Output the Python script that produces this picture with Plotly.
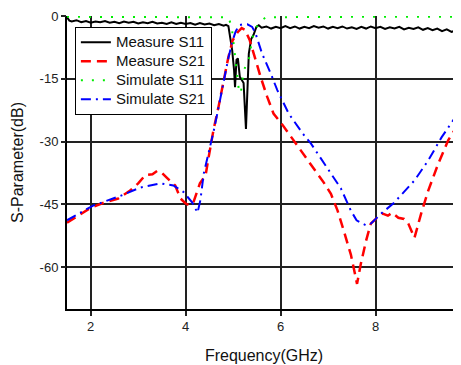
import plotly.graph_objects as go

# Measure S11 (black solid)
m11_f = [1.5, 1.55, 1.6, 1.7, 1.8, 1.9, 2.0, 2.1, 2.2, 2.3, 2.4, 2.5, 2.6, 2.7, 2.8, 2.9,
         3.0, 3.1, 3.2, 3.3, 3.4, 3.5, 3.6, 3.7, 3.8, 3.9, 4.0, 4.1, 4.2, 4.3, 4.4, 4.5,
         4.6, 4.7, 4.8, 4.85, 4.9, 4.95, 4.98, 5.02, 5.04, 5.07, 5.1, 5.14, 5.18, 5.22,
         5.27, 5.3, 5.33, 5.38, 5.43, 5.49, 5.54, 5.6, 5.7, 5.8, 5.9, 6.0, 6.1, 6.2, 6.3,
         6.4, 6.5, 6.6, 6.7, 6.8, 6.9, 7.0, 7.1, 7.2, 7.3, 7.4, 7.5, 7.6, 7.7, 7.8, 7.9,
         8.0, 8.1, 8.2, 8.3, 8.4, 8.5, 8.6, 8.7, 8.8, 8.9, 9.0, 9.1, 9.2, 9.3, 9.4, 9.5,
         9.6, 9.7, 9.8]
m11_v = [-0.3, -1.1, -1.3, -1.0, -1.5, -1.2, -1.6, -1.3, -1.5, -1.2, -1.6, -1.4, -1.7, -1.3, -1.6, -1.4,
         -1.8, -1.5, -1.7, -1.4, -1.8, -1.6, -1.9, -1.5, -1.9, -1.6, -1.9, -1.7, -2.1, -1.7, -2.0, -1.8,
         -2.2, -1.9, -2.3, -2.1, -2.4, -5.5, -8.2, -13.0, -17.0, -10.5, -10.1, -14.5, -15.3, -16.0,
         -27.0, -18.0, -9.0, -5.5, -4.5, -2.6, -2.2, -2.8, -2.5, -3.0, -2.6, -2.9, -2.4, -2.9, -2.5,
         -3.0, -2.6, -2.9, -2.4, -2.8, -2.5, -3.0, -2.6, -2.9, -2.5, -3.0, -2.7, -3.1, -2.6, -3.0, -2.5,
         -2.9, -2.6, -3.1, -2.7, -3.0, -2.6, -3.2, -2.8, -3.1, -2.7, -3.3, -2.9, -3.4, -3.0, -3.6, -3.2,
         -3.8, -3.4, -4.0]

# Measure S21 (red dashed)
m21_f = [1.5, 1.75, 2.0, 2.3, 2.58, 2.83, 3.0, 3.15, 3.3, 3.4, 3.5, 3.6, 3.78, 3.89, 4.0, 4.08,
         4.16, 4.3, 4.42, 4.48, 4.59, 4.69, 4.8, 4.9, 4.99, 5.1, 5.18, 5.25, 5.35, 5.47, 5.58,
         5.72, 5.85, 6.02, 6.32, 6.57, 6.74, 6.91, 7.06, 7.2, 7.33, 7.48, 7.61, 7.69, 7.8,
         7.9, 8.05, 8.15, 8.26, 8.35, 8.48, 8.6, 8.69, 8.82, 8.96, 9.11, 9.32, 9.53, 9.75, 9.8]
m21_v = [-49.4, -47.5, -45.8, -44.5, -43.6, -41.7, -40.0, -38.0, -37.8, -37.0, -37.5, -38.6, -40.5, -43.6, -44.8, -45.2,
         -44.6, -40.0, -38.0, -34.0, -27.0, -21.8, -15.3, -9.8, -5.8, -3.8, -2.9, -3.3, -5.8, -10.5, -14.6,
         -19.4, -23.3, -25.7, -30.5, -34.5, -37.0, -39.8, -42.5, -46.5, -51.3, -57.0, -64.0, -59.2, -53.7,
         -49.6, -48.0, -47.2, -47.7, -47.0, -48.2, -48.5, -49.6, -53.0, -47.2, -41.7, -35.3, -29.7, -25.7, -25.0]

# Simulate S11 (green dotted)
s11_f = [1.5, 2.5, 3.5, 4.5, 4.9, 4.97, 5.02, 5.05, 5.12, 5.16, 5.21, 5.28, 5.33, 5.38, 5.43,
         5.5, 5.6, 5.7, 6.5, 7.5, 8.5, 9.8]
s11_v = [-0.2, -0.2, -0.2, -0.2, -0.3, -2.6, -7.8, -12.0, -17.7, -18.5, -14.0, -11.0, -10.5, -7.0, -4.0,
         -2.5, -1.0, -0.3, -0.2, -0.2, -0.2, -0.2]

# Simulate S21 (blue dash-dot)
s21_f = [1.5, 2.05, 2.62, 3.04, 3.47, 3.74, 3.95, 4.14, 4.25, 4.31, 4.38, 4.48, 4.59, 4.69, 4.8,
         4.9, 4.99, 5.05, 5.12, 5.2, 5.3, 5.4, 5.47, 5.61, 5.79, 5.93, 6.17, 6.46, 6.64,
         6.95, 7.27, 7.48, 7.6, 7.69, 7.8, 7.9, 8.12, 8.39, 8.82, 9.11, 9.39, 9.75, 9.8]
s21_v = [-48.8, -45.3, -43.0, -41.0, -40.0, -40.5, -42.0, -44.6, -47.0, -44.0, -37.7, -33.0, -27.5, -22.0, -15.5,
         -10.0, -5.8, -3.8, -2.2, -2.0, -2.0, -2.6, -4.1, -9.0, -13.7, -17.7, -23.3, -28.0, -30.5,
         -35.7, -41.2, -46.5, -48.8, -49.4, -50.0, -49.6, -47.2, -44.6, -39.3, -34.5, -29.0, -23.0, -22.3]

series_names = ["Measure S11", "Measure S21", "Simulate S11", "Simulate S21"]
x_ticks = [2, 4, 6, 8]
y_ticks = [0, -15, -30, -45, -60]
y_range = [-70, 0]


def legend_label(text):
    return '<span style="font-size:15px">' + text + '</span>'


fig = go.Figure()
fig.add_trace(go.Scatter(x=m11_f, y=m11_v, mode="lines", name=legend_label(series_names[0]),
                         line=dict(color="black", width=2)))
fig.add_trace(go.Scatter(x=m21_f, y=m21_v, mode="lines", name=legend_label(series_names[1]),
                         line=dict(color="#ff0000", width=2.5, dash="10px,6px")))
fig.add_trace(go.Scatter(x=s11_f, y=s11_v, mode="lines", name=legend_label(series_names[2]), yaxis="y2",
                         line=dict(color="#00ee00", width=2, dash="2px,9px")))
fig.add_trace(go.Scatter(x=s21_f, y=s21_v, mode="lines", name=legend_label(series_names[3]),
                         line=dict(color="#0000ff", width=2, dash="10px,5px,2px,5px")))

axis_font = dict(family="Liberation Sans, Arial, sans-serif", size=13, color="#222")
# the page body adds an 8px offset; the figure is shifted to compensate
fig.update_layout(
    width=453, height=357,
    margin=dict(l=59, r=0, t=8, b=56),
    paper_bgcolor="white", plot_bgcolor="white",
    font=dict(family="Liberation Sans, Arial, sans-serif", size=15, color="#111"),
    showlegend=True,
    legend=dict(x=0.02, y=0.963, xanchor="left", yanchor="top",
                bgcolor="white", bordercolor="black", borderwidth=1,
                font=dict(size=12, color="#111"), tracegroupgap=0),
    xaxis=dict(range=[1.5, 9.8], tickvals=x_ticks, ticktext=[str(v) for v in x_ticks],
               showgrid=True, gridcolor="#222", gridwidth=2, automargin=False,
               showline=True, linecolor="black", linewidth=1.5,
               ticks="outside", ticklen=5, tickwidth=2, tickcolor="#222",
               tickfont=axis_font, zeroline=False,
               title=dict(text="Frequency(GHz)", font=dict(size=16, color="#111"), standoff=16)),
    # grid lines only (no grid on the 0 edge)
    yaxis=dict(range=y_range, tickvals=y_ticks[1:], showticklabels=False,
               showgrid=True, gridcolor="#222", gridwidth=2, automargin=False,
               showline=True, linecolor="black", linewidth=1.5,
               ticks="", zeroline=False,
               title=dict(text="S-Parameter(dB)", font=dict(size=16, color="#111"), standoff=38)),
    # tick marks and labels
    yaxis2=dict(range=y_range, overlaying="y", side="left", anchor="x",
                tickvals=y_ticks, ticktext=[str(v) for v in y_ticks],
                showgrid=False, showline=False, automargin=False,
                ticks="outside", ticklen=5, tickwidth=1.5, tickcolor="#222",
                tickfont=axis_font, zeroline=False),
)

fig.write_html("out.html")
